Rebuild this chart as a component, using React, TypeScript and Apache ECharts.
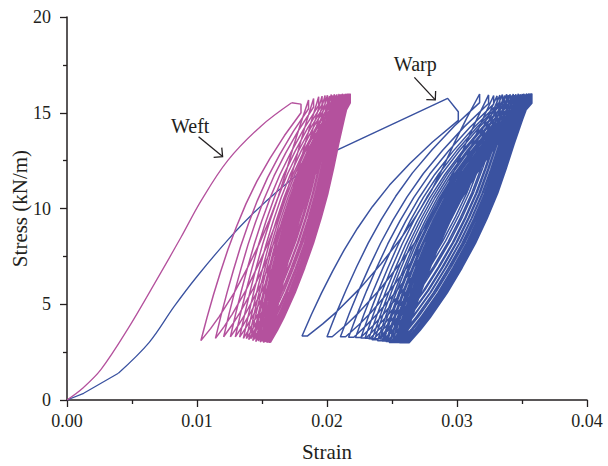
import React, { useEffect, useRef } from "react";
import * as echarts from "echarts";

const weftColor = "#b4519d";
const warpColor = "#3a52a0";
const inkColor = "#231f20";
const serif = '"Liberation Serif", "Times New Roman", serif';

// First loading, curved part: [strain, stress (kN/m)]
const weftFirstLoading: [number, number][] = [
  [0, 0], [0.00118, 0.6], [0.00262, 1.6], [0.00467, 3.7], [0.00692, 6.3],
  [0.00877, 8.5], [0.01031, 10.4], [0.01236, 12.5], [0.01492, 14.3],
  [0.01728, 15.52],
];
// Straight toe of the warp curve before it bends upward
const warpToe: [number, number][] = [[0, 0], [0.00128, 0.35], [0.00395, 1.4]];
const warpFirstLoading: [number, number][] = [
  [0.00395, 1.4], [0.00631, 3.0], [0.00826, 4.9], [0.01, 6.45], [0.01236, 8.35],
  [0.0141, 9.6], [0.01636, 11.0], [0.01821, 12.0], [0.02077, 13.05],
];
// Straight run from the end of the curved part to the first peak and its relaxation
const weftToPeak: [number, number][] = [[0.01728, 15.52], [0.018, 15.45]];
const warpToPeak: [number, number][] = [[0.02077, 13.05], [0.02928, 15.75], [0.0301, 15.05]];

// Cyclic loading, weft: peak of every cycle (strain, stress)
const weftPeakStrain = [
  0.018, 0.01858, 0.01897, 0.01936, 0.01962, 0.01985, 0.02003, 0.02019, 0.02033, 0.02045,
  0.02057, 0.02067, 0.02076, 0.02085, 0.02093, 0.02101, 0.02108, 0.02114, 0.0212, 0.02125,
  0.0213, 0.02135, 0.0214, 0.02144, 0.02148, 0.02151, 0.02154, 0.02157, 0.0216, 0.02163,
  0.02165, 0.02167, 0.02169, 0.02171, 0.02173, 0.02175, 0.02176, 0.02177, 0.02178, 0.02179,
  0.0218,
];
const weftPeakStress = [
  15.45, 15.66, 15.75, 15.84, 15.87, 15.9, 15.92, 15.88, 15.95, 15.9,
  15.97, 15.92, 15.96, 15.89, 15.98, 15.93, 15.97, 15.9, 15.99, 15.94,
  15.97, 15.91, 15.98, 15.95, 15.99, 15.92, 15.97, 15.94, 16.0, 15.93,
  15.98, 15.95, 16.0, 15.92, 15.98, 15.96, 16.0, 15.94, 15.99, 15.97,
  16.0,
];
// Cyclic loading, weft: lowest point of every cycle (strain, stress)
const weftValleyStrain = [
  0.0103, 0.01142, 0.01205, 0.01257, 0.01295, 0.01328, 0.01357, 0.0138, 0.01398, 0.01414,
  0.01429, 0.01441, 0.01452, 0.01463, 0.01472, 0.0148, 0.01487, 0.01494, 0.01501, 0.01507,
  0.01512, 0.01517, 0.01522, 0.01526, 0.0153, 0.01534, 0.01538, 0.01541, 0.01544, 0.01547,
  0.01549, 0.01551, 0.01553, 0.01555, 0.01557, 0.01559, 0.01561, 0.01562, 0.01563, 0.01564,
];
const weftValleyStress = [
  3.1, 3.22, 3.3, 3.3, 3.3, 3.28, 3.22, 3.2, 3.15, 3.2,
  3.1, 3.18, 3.05, 3.15, 3.08, 3.2, 3.02, 3.12, 3.06, 3.18,
  3.0, 3.1, 3.05, 3.15, 3.02, 3.12, 3.0, 3.08, 3.14, 3.02,
  3.1, 3.0, 3.06, 3.12, 3.0, 3.08, 3.02, 3.1, 3.04, 3.0,
];

// Cyclic loading, warp
const warpPeakStrain = [
  0.0301, 0.03174, 0.03243, 0.03282, 0.03308, 0.0333, 0.03349, 0.03366, 0.03382, 0.03396,
  0.03409, 0.03422, 0.03433, 0.03443, 0.03453, 0.03463, 0.03472, 0.0348, 0.03488, 0.03495,
  0.03503, 0.03509, 0.03515, 0.03521, 0.03526, 0.03531, 0.03536, 0.0354, 0.03545, 0.03549,
  0.03553, 0.03556, 0.03559, 0.03562, 0.03565, 0.03568, 0.0357, 0.03572, 0.03574, 0.03576,
  0.03578,
];
const warpPeakStress = [
  15.05, 15.98, 15.93, 15.9, 15.88, 15.92, 15.95, 15.9, 15.97, 15.92,
  15.96, 15.9, 15.98, 15.93, 15.97, 15.91, 15.99, 15.94, 15.97, 15.9,
  15.98, 15.95, 15.99, 15.92, 15.97, 15.94, 16.0, 15.93, 15.98, 15.95,
  16.0, 15.92, 15.98, 15.96, 16.0, 15.94, 15.99, 15.97, 16.0, 15.95,
  16.0,
];
const warpValleyStrain = [
  0.01808, 0.02, 0.02103, 0.02166, 0.02219, 0.0226, 0.02292, 0.02321, 0.02346, 0.02368,
  0.02389, 0.02407, 0.02424, 0.02439, 0.02453, 0.02467, 0.02479, 0.0249, 0.02501, 0.0251,
  0.02518, 0.02526, 0.02533, 0.02541, 0.02547, 0.02553, 0.02558, 0.02563, 0.02567, 0.02571,
  0.02574, 0.02577, 0.0258, 0.02583, 0.02585, 0.02587, 0.02589, 0.0259, 0.02591, 0.02592,
];
const warpValleyStress = [
  3.34, 3.3, 3.3, 3.28, 3.26, 3.24, 3.22, 3.2, 3.15, 3.2,
  3.1, 3.18, 3.08, 3.15, 3.05, 3.12, 3.0, 3.1, 3.06, 3.14,
  3.0, 3.08, 3.02, 3.12, 3.0, 3.05, 2.99, 3.1, 3.02, 3.0,
  3.08, 2.99, 3.04, 3.1, 3.0, 3.02, 2.99, 3.06, 3.0, 2.99,
];

// Shape of one branch: [fraction of the stress span, fraction of the strain span]
const unloadBranch: [number, number][] = [
  [0, 0], [0.05, 0.03], [0.1, 0.06], [0.2, 0.125], [0.3, 0.195], [0.4, 0.27],
  [0.5, 0.355], [0.6, 0.45], [0.7, 0.56], [0.8, 0.69], [0.9, 0.835], [1, 1],
];
const reloadBranch: [number, number][] = [
  [0, 0], [0.05, 0.09], [0.1, 0.17], [0.2, 0.31], [0.3, 0.43], [0.4, 0.54],
  [0.5, 0.635], [0.6, 0.72], [0.7, 0.79], [0.8, 0.855], [0.9, 0.925], [1, 1],
];
const peakDrop = 0.45; // stress relaxation right after each peak (kN/m)
const warpValleyDwell = 0.0004; // short strain dwell at the warp minima

// Text annotations, placed in data coordinates
const annotations = [
  { text: "Weft", at: [0.00948, 14.31], from: [0.01012, 13.75], to: [0.01197, 12.71] },
  { text: "Warp", at: [0.02679, 17.55], from: [0.02672, 16.85], to: [0.02833, 15.67] },
];

function buildCycles(
  lead: [number, number][],
  peakStrain: number[],
  peakStress: number[],
  valleyStrain: number[],
  valleyStress: number[],
  dwell: number
): number[][] {
  const pts: number[][] = lead.map((p) => [p[0], p[1]]);
  for (let i = 0; i < valleyStrain.length; i++) {
    const tx = peakStrain[i];
    const ty = peakStress[i] - peakDrop;
    const vx = valleyStrain[i];
    const vy = valleyStress[i];
    for (let k = unloadBranch.length - 1; k >= 0; k--) {
      const [u, g] = unloadBranch[k];
      pts.push([vx + g * (tx - vx), vy + u * (ty - vy)]);
    }
    const sx = vx + dwell;
    if (dwell > 0) pts.push([sx, vy]);
    const nx = peakStrain[i + 1];
    const ny = peakStress[i + 1];
    for (let k = 1; k < reloadBranch.length; k++) {
      const [u, g] = reloadBranch[k];
      pts.push([sx + g * (nx - sx), vy + u * (ny - vy)]);
    }
  }
  return pts;
}

function arrow(chart: echarts.ECharts, from: number[], to: number[]) {
  const a = chart.convertToPixel({ gridIndex: 0 }, from) as number[];
  const b = chart.convertToPixel({ gridIndex: 0 }, to) as number[];
  const ang = Math.atan2(b[1] - a[1], b[0] - a[0]);
  const len = 9;
  const spread = Math.PI / 4;
  const p1 = [b[0] - len * Math.cos(ang - spread), b[1] - len * Math.sin(ang - spread)];
  const p2 = [b[0] - len * Math.cos(ang + spread), b[1] - len * Math.sin(ang + spread)];
  return [
    {
      type: "line",
      shape: { x1: a[0], y1: a[1], x2: b[0], y2: b[1] },
      style: { stroke: inkColor, lineWidth: 1.3 },
    },
    {
      type: "polyline",
      shape: { points: [p1, b, p2] },
      style: { stroke: inkColor, lineWidth: 1.3, fill: null },
    },
  ];
}

function lineSeries(
  name: string,
  data: number[][],
  color: string,
  smooth: number,
  width: number,
  z: number
) {
  return {
    name,
    type: "line",
    data,
    smooth,
    showSymbol: false,
    symbol: "none",
    silent: true,
    lineStyle: { color, width },
    itemStyle: { color },
    z,
  };
}

export default function App() {
  const ref = useRef<HTMLDivElement>(null);

  useEffect(() => {
    if (!ref.current) return;
    const chart = echarts.init(ref.current, undefined, { renderer: "svg" });

    const weftCycles = buildCycles(
      weftToPeak, weftPeakStrain, weftPeakStress, weftValleyStrain, weftValleyStress, 0
    );
    const warpCycles = buildCycles(
      warpToPeak, warpPeakStrain, warpPeakStress, warpValleyStrain, warpValleyStress, warpValleyDwell
    );

    const axisLine = { show: true, onZero: false, lineStyle: { color: inkColor, width: 1.5 } };
    const tickStyle = { color: inkColor, width: 1.3 };

    chart.setOption({
      animation: false,
      textStyle: { fontFamily: serif },
      grid: {
        left: 67,
        right: 21,
        top: 17,
        bottom: 66,
        containLabel: false,
        outerBoundsMode: "none",
      },
      xAxis: {
        type: "value",
        min: 0,
        max: 0.04,
        interval: 0.01,
        name: "Strain",
        nameLocation: "middle",
        nameGap: 41,
        nameMoveOverlap: false,
        nameTextStyle: { fontSize: 21, color: inkColor, fontFamily: serif },
        axisLine,
        axisTick: { show: true, inside: false, length: 7, lineStyle: tickStyle },
        minorTick: { show: true, splitNumber: 2, length: 4, lineStyle: tickStyle },
        splitLine: { show: false },
        minorSplitLine: { show: false },
        axisLabel: {
          fontSize: 18,
          color: inkColor,
          margin: 12,
          fontFamily: serif,
          formatter: (v: number) => v.toFixed(2),
        },
      },
      yAxis: {
        type: "value",
        min: 0,
        max: 20,
        interval: 5,
        name: "Stress (kN/m)",
        nameLocation: "middle",
        nameGap: 37,
        nameMoveOverlap: false,
        nameRotate: 90,
        nameTextStyle: { fontSize: 21, color: inkColor, fontFamily: serif },
        axisLine,
        axisTick: { show: true, inside: false, length: 7, lineStyle: tickStyle },
        minorTick: { show: true, splitNumber: 2, length: 4, lineStyle: tickStyle },
        splitLine: { show: false },
        minorSplitLine: { show: false },
        axisLabel: { fontSize: 18, color: inkColor, margin: 16, fontFamily: serif },
      },
      series: [
        lineSeries("Warp", warpToe, warpColor, 0, 1.3, 2),
        lineSeries("Warp", warpFirstLoading, warpColor, 0.35, 1.3, 2),
        lineSeries("Warp", warpCycles, warpColor, 0, 1.5, 2),
        lineSeries("Weft", weftFirstLoading, weftColor, 0.35, 1.3, 3),
        lineSeries("Weft", weftCycles, weftColor, 0, 1.5, 3),
      ],
    });

    const graphics: any[] = [];
    annotations.forEach((a) => {
      const p = chart.convertToPixel({ gridIndex: 0 }, a.at) as number[];
      graphics.push({
        type: "text",
        x: p[0],
        y: p[1],
        style: {
          text: a.text,
          fill: inkColor,
          font: `20px ${serif}`,
          align: "center",
          verticalAlign: "middle",
        },
      });
      graphics.push(...arrow(chart, a.from, a.to));
    });
    chart.setOption({ graphic: graphics });

    return () => chart.dispose();
  }, []);

  return (
    <div
      ref={ref}
      style={{ position: "absolute", left: 0, top: 0, width: 608, height: 466, background: "#fff" }}
    />
  );
}
